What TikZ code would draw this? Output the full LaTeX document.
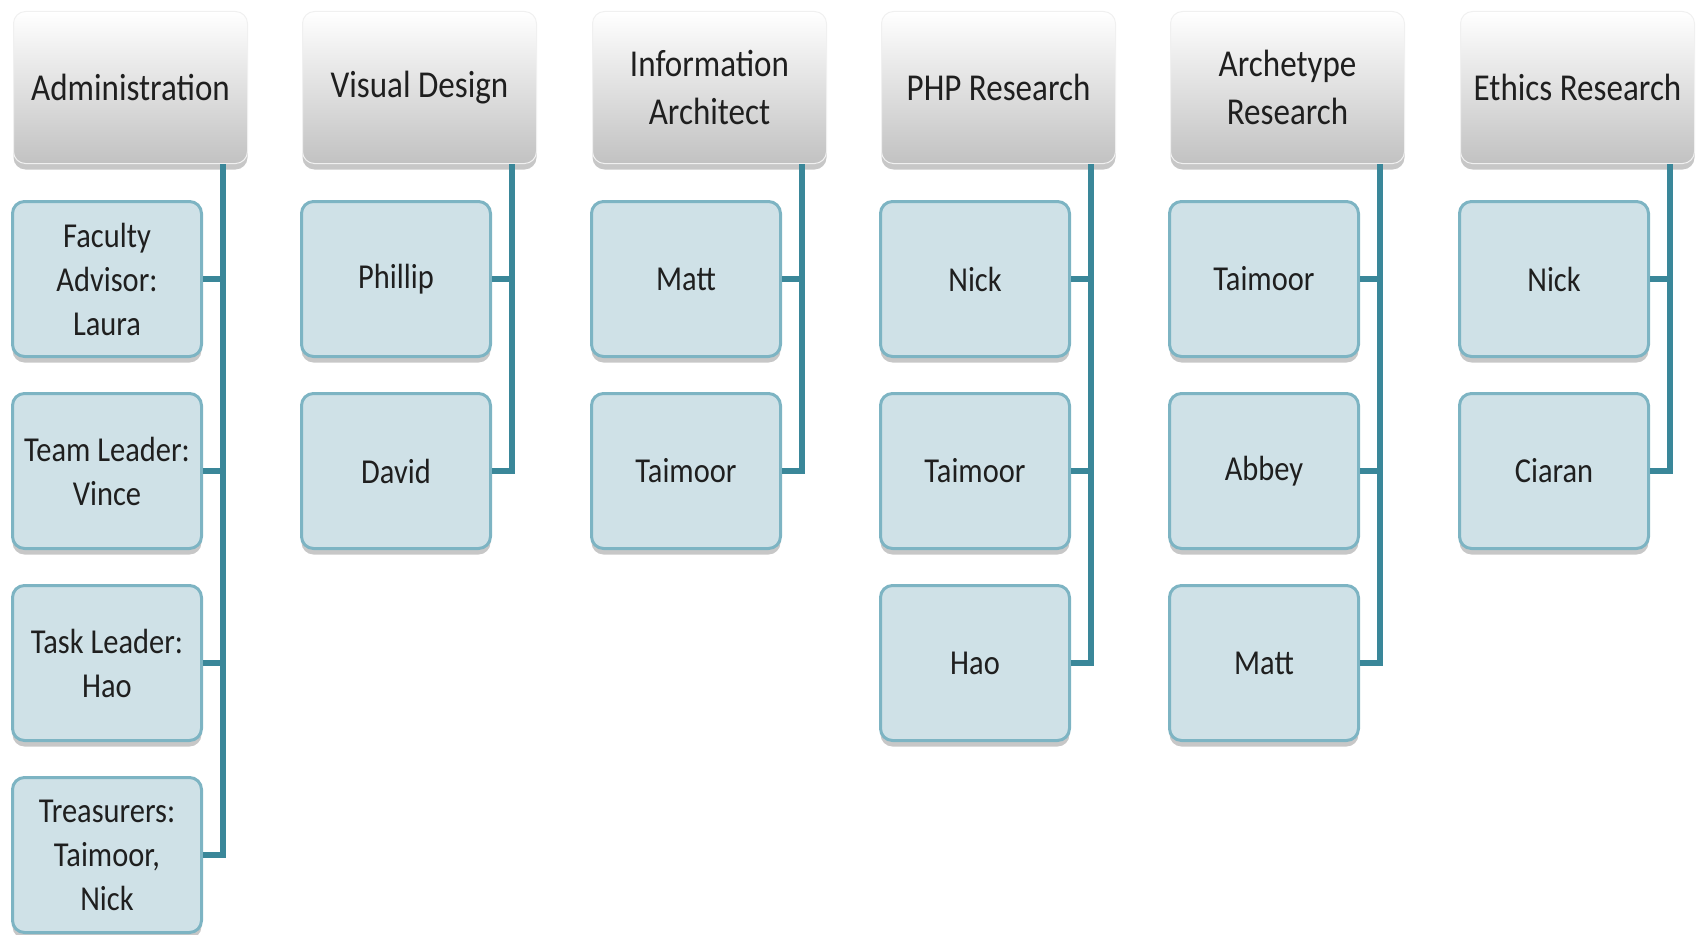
\documentclass[tikz,border=0pt]{standalone}
\usepackage{fontspec}
\setmainfont{Carlito}[FakeStretch=0.87]
\usetikzlibrary{shadows}
\definecolor{linkcol}{HTML}{3A8799}
\definecolor{childfill}{HTML}{CFE1E7}
\definecolor{childdraw}{HTML}{7DB4C3}
\begin{document}
\begin{tikzpicture}[x=1pt,y=-1pt,
  head/.style={rounded corners=12pt, minimum width=234pt, minimum height=152pt,
    anchor=north west, top color=white, bottom color=black!24, draw=black!6,
    line width=1pt, align=center, font=\fontsize{38}{48}\selectfont, text=black!88,
    inner sep=2pt,
    drop shadow={shadow xshift=0pt, shadow yshift=-6pt, opacity=0.22, fill=black}},
  member/.style={rounded corners=12pt, minimum width=189pt, minimum height=155pt,
    anchor=north west, fill=childfill, draw=childdraw, line width=3pt,
    align=center, font=\fontsize{35}{44}\selectfont, text=black!88, inner sep=2pt,
    drop shadow={shadow xshift=0pt, shadow yshift=-6pt, opacity=0.22, fill=black}},
  link/.style={draw=linkcol, line width=6pt}]
\useasboundingbox (0,0) rectangle (1696,934);

% ---------- headers ----------
\node[head] (hA) at (13,11)   {Administration};
\node[head] (hB) at (302,11)  {Visual Design};
\node[head] (hC) at (592,11)  {Information\\Architect};
\node[head] (hD) at (881,11)  {PHP Research};
\node[head] (hE) at (1170,11) {Archetype\\Research};
\node[head] (hF) at (1460,11) {Ethics Research};

% ---------- top points of the vertical lines ----------
\coordinate (tA) at ([xshift=-25pt]hA.south east);
\coordinate (tB) at ([xshift=-25pt]hB.south east);
\coordinate (tC) at ([xshift=-25pt]hC.south east);
\coordinate (tD) at ([xshift=-25pt]hD.south east);
\coordinate (tE) at ([xshift=-25pt]hE.south east);
\coordinate (tF) at ([xshift=-25pt]hF.south east);

% ---------- members ----------
\node[member] (a1) at (11,200) {Faculty\\Advisor:\\Laura};
\node[member] (a2) at (11,392) {Team Leader:\\Vince};
\node[member] (a3) at (11,584) {Task Leader:\\Hao};
\node[member] (a4) at (11,776) {Treasurers:\\Taimoor,\\Nick};

\node[member] (b1) at (300,200) {Phillip};
\node[member] (b2) at (300,392) {David};

\node[member] (c1) at (590,200) {Matt};
\node[member] (c2) at (590,392) {Taimoor};

\node[member] (d1) at (879,200) {Nick};
\node[member] (d2) at (879,392) {Taimoor};
\node[member] (d3) at (879,584) {Hao};

\node[member] (e1) at (1168,200) {Taimoor};
\node[member] (e2) at (1168,392) {Abbey};
\node[member] (e3) at (1168,584) {Matt};

\node[member] (f1) at (1458,200) {Nick};
\node[member] (f2) at (1458,392) {Ciaran};

% ---------- connectors ----------
\foreach \t/\c in {tA/a1,tA/a2,tA/a3,tA/a4,
                   tB/b1,tB/b2,
                   tC/c1,tC/c2,
                   tD/d1,tD/d2,tD/d3,
                   tE/e1,tE/e2,tE/e3,
                   tF/f1,tF/f2}
  \draw[link] (\t) |- (\c.east);
\end{tikzpicture}
\end{document}
